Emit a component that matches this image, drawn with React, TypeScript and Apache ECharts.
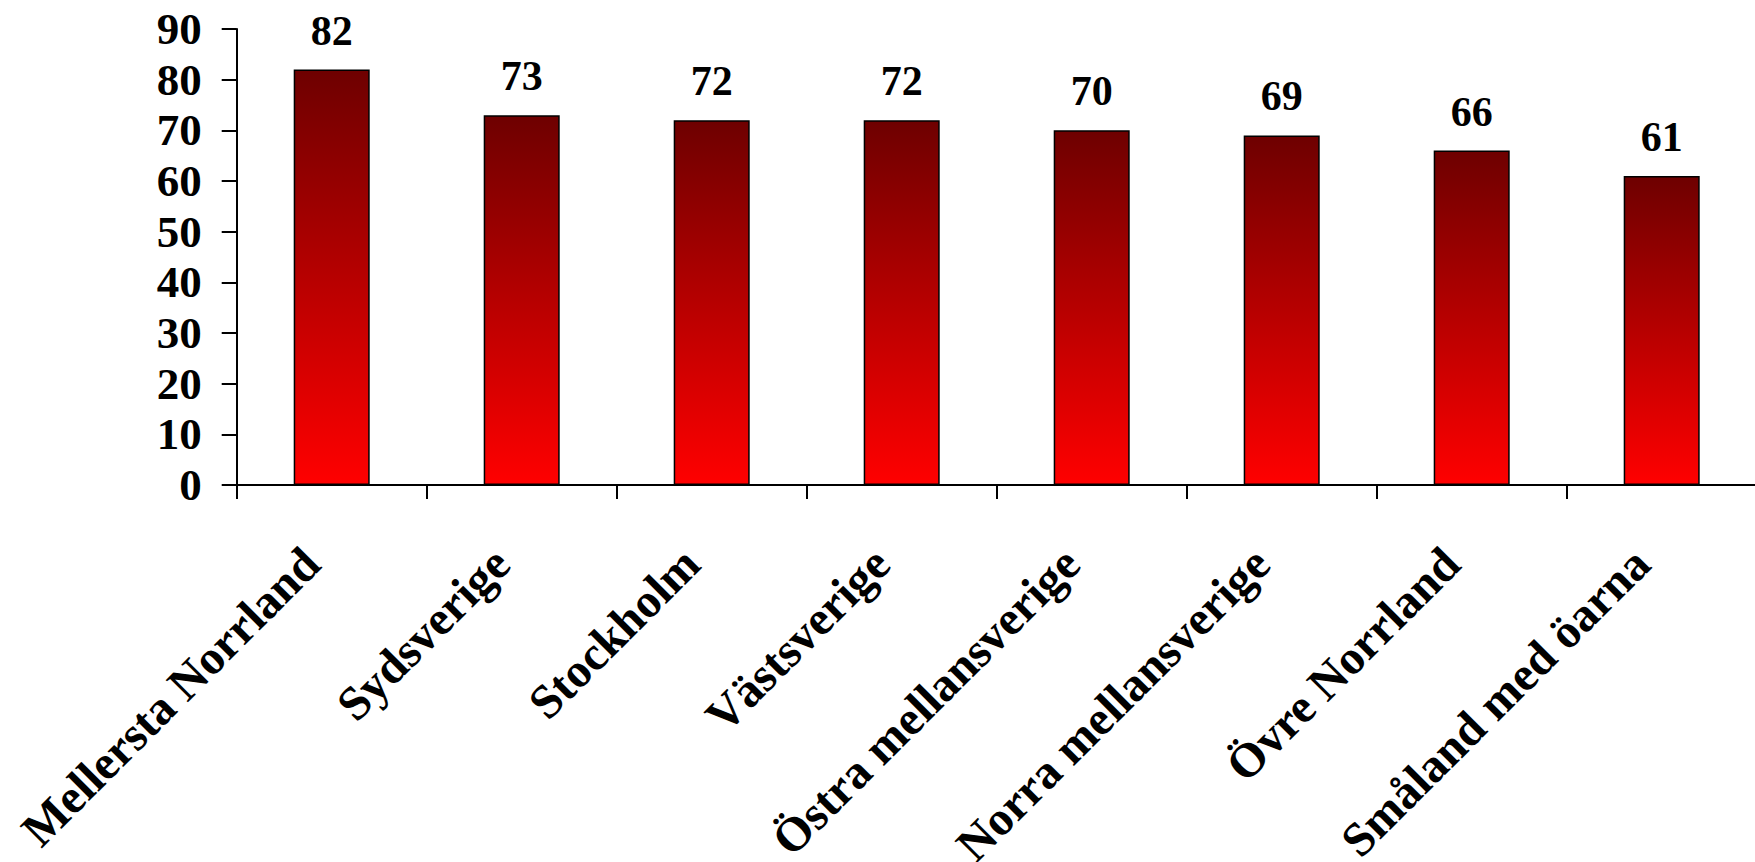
import React, { useEffect, useRef } from "react";
import * as echarts from "echarts";

const categories = [
  "Mellersta Norrland",
  "Sydsverige",
  "Stockholm",
  "Västsverige",
  "Östra mellansverige",
  "Norra mellansverige",
  "Övre Norrland",
  "Småland med öarna",
];
const values = [82, 73, 72, 72, 70, 69, 66, 61];
const yTicks = { min: 0, max: 90, interval: 10 };

export default function App() {
  const ref = useRef<HTMLDivElement>(null);
  useEffect(() => {
    if (!ref.current) return;
    const chart = echarts.init(ref.current, null, { renderer: "svg" });
    const font = "'Liberation Serif', 'Times New Roman', serif";
    chart.setOption({
      animation: false,
      backgroundColor: "#ffffff",
      grid: {
        left: 236.7,
        top: 29,
        width: 1520,
        height: 456,
        containLabel: false,
        outerBoundsMode: "none",
      },
      xAxis: {
        type: "category",
        data: categories,
        axisLine: { lineStyle: { color: "#000", width: 2 } },
        axisTick: { show: true, length: 14, lineStyle: { color: "#000", width: 2 } },
        axisLabel: {
          rotate: 45,
          interval: 0,
          margin: 50,
          padding: [0, 29, 0, 0],
          color: "#000",
          fontFamily: font,
          fontWeight: "bold",
          fontSize: 48,
        },
      },
      yAxis: {
        type: "value",
        min: yTicks.min,
        max: yTicks.max,
        interval: yTicks.interval,
        splitLine: { show: false },
        axisLine: { show: true, lineStyle: { color: "#000", width: 2 } },
        axisTick: { show: true, length: 15, lineStyle: { color: "#000", width: 2 } },
        axisLabel: {
          margin: 35,
          color: "#000",
          fontFamily: font,
          fontWeight: "bold",
          fontSize: 45,
        },
      },
      series: [
        {
          type: "bar",
          data: values,
          barWidth: 76,
          itemStyle: {
            borderColor: "#000",
            borderWidth: 1.5,
            color: new echarts.graphic.LinearGradient(0, 0, 0, 1, [
              { offset: 0, color: "#6e0000" },
              { offset: 1, color: "#ff0000" },
            ]),
          },
          label: {
            show: true,
            position: "top",
            distance: 18,
            color: "#000",
            fontFamily: font,
            fontWeight: "bold",
            fontSize: 42,
          },
        },
      ],
    });
    return () => chart.dispose();
  }, []);
  return (
    <div
      ref={ref}
      style={{ position: "fixed", left: 0, top: 0, width: 1755, height: 862 }}
    />
  );
}
